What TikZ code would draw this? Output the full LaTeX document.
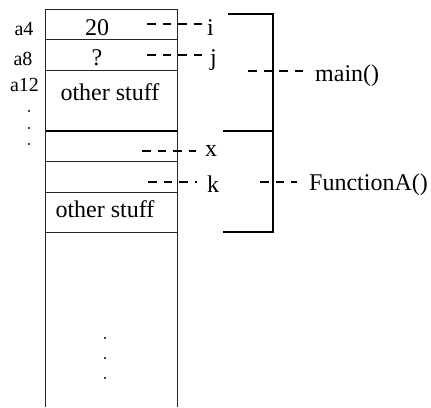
\documentclass[tikz,border=0pt]{standalone}
\usepackage{fontspec}
\setmainfont{Liberation Serif}
\begin{document}
\begin{tikzpicture}[x=1pt,y=-1pt,
  big/.style={font=\fontsize{24}{28}\selectfont, inner sep=0pt, anchor=base},
  small/.style={font=\fontsize{20}{24}\selectfont, inner sep=0pt, anchor=base},
  vlabel/.style={font=\fontsize{24}{28}\selectfont, inner sep=0pt, anchor=base west},
  cell/.style={draw=black!85, line width=0.9pt},
  sep/.style={line width=1.6pt},
  brace/.style={line width=1.6pt},
  lead/.style={dash pattern=on 8.5pt off 7pt, line width=1.25pt},
  dotmark/.style={fill=black, circle, inner sep=0pt, minimum size=2.4pt}]
\useasboundingbox (0,0) rectangle (431,407);
% stack column
\coordinate (tl) at (45.5,9);
\coordinate (tr) at (177,9);
\coordinate (bl) at (45.5,407);
\coordinate (br) at (177,407);
\draw[cell] (bl) -- (tl) -- (tr) -- (br);
\foreach \yy in {39.5,70,161,192,232}
  \draw[cell] (45.5,\yy) -- (177,\yy);
\draw[sep] (45.5,131) -- (177,131);
% cell contents
\node[big] (v20) at (97,35) {20};
\node[big] (vq) at (97,65) {?};
\node[big] (os1) at (110,100) {other stuff};
\node[big] (os2) at (105,217) {other stuff};
% addresses
\node[small] (a4) at (24,35) {a4};
\node[small] (a8) at (23,65) {a8};
\node[small] (a12) at (24.5,91) {a12};
\node[dotmark] (d1) at (29,111) {};
\node[dotmark] (d2) at (29,128) {};
\node[dotmark] (d3) at (29,144) {};
\node[dotmark] (e1) at (105,338) {};
\node[dotmark] (e2) at (105,358) {};
\node[dotmark] (e3) at (105,378) {};
% variable names
\node[vlabel] (ni) at (207,35) {i};
\node[vlabel] (nj) at (210,65) {j};
\node[vlabel] (nx) at (205,156) {x};
\node[vlabel] (nk) at (207,192) {k};
\coordinate (ci) at (147,24);
\coordinate (cj) at (147,55);
\coordinate (cx) at (142,151);
\coordinate (ck) at (148,182);
\draw[lead] (ci) -- (ci -| ni.west);
\draw[lead] (cj) -- ([xshift=-6pt]cj -| nj.west);
\draw[lead] (cx) -- ([xshift=-9pt]cx -| nx.west);
\draw[lead] (ck) -- ([xshift=-10pt]ck -| nk.west);
% brackets
\draw[brace] (228,14) -- (273,14) -- (273,131) -- (223,131);
\draw[brace] (273,131) -- (273,232) -- (223,232);
% frame names
\node[vlabel] (main) at (315,81) {main()};
\node[vlabel] (fa) at (309,190) {FunctionA()};
\coordinate (cm) at (248,71);
\coordinate (cf) at (260,182);
\draw[lead] (cm) -- ([xshift=-10pt]cm -| main.west);
\draw[lead] (cf) -- ([xshift=-12pt]cf -| fa.west);
\end{tikzpicture}
\end{document}
